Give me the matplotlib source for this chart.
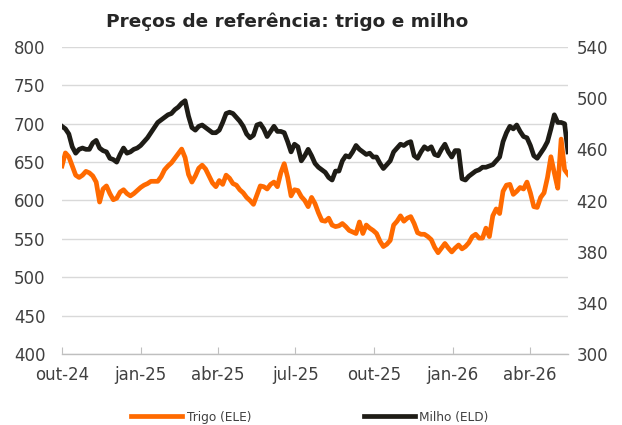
import matplotlib
matplotlib.use("Agg")
import matplotlib.pyplot as plt
import matplotlib.dates as mdates
from matplotlib.ticker import FuncFormatter
import pandas as pd

title = "Preços de referência: trigo e milho"
start_date = "2024-10-01"
step = "4D"
month_names = {1: "jan", 4: "abr", 7: "jul", 10: "out"}
left_ticks = [400, 450, 500, 550, 600, 650, 700, 750, 800]
right_ticks = [300, 340, 380, 420, 460, 500, 540]
label_trigo = "Trigo (ELE)"
label_milho = "Milho (ELD)"

trigo = [645, 662, 657, 645, 633, 630, 633, 638, 636, 632,
         624, 598, 615, 619, 609, 601, 603, 611, 614, 609,
         606, 609, 613, 617, 620, 622, 625, 625, 625, 631,
         640, 645, 649, 655, 661, 667, 656, 634, 624, 632,
         642, 646, 641, 632, 623, 618, 626, 621, 633, 629,
         622, 620, 614, 610, 604, 600, 595, 607, 619, 618,
         615, 621, 624, 618, 636, 648, 630, 606, 614, 613,
         605, 600, 592, 604, 596, 584, 574, 573, 577, 568,
         566, 567, 570, 566, 561, 559, 557, 572, 557, 568,
         564, 561, 557, 547, 540, 543, 548, 568, 573, 580,
         573, 577, 579, 570, 558, 556, 556, 553, 549, 539,
         532, 538, 544, 538, 533, 538, 542, 537, 540, 545,
         553, 556, 551, 551, 564, 553, 580, 589, 583, 612,
         620, 621, 608, 612, 617, 615, 624, 610, 592, 591,
         604, 610, 630, 657, 636, 616, 680, 640, 634]

milho = [478, 476, 472, 462, 457, 460, 461, 460, 460, 465,
         467, 461, 459, 458, 453, 452, 450, 456, 461, 457,
         458, 460, 461, 463, 466, 469, 473, 477, 481, 483,
         485, 487, 488, 491, 493, 496, 498, 486, 477, 475,
         478, 479, 477, 475, 473, 473, 475, 481, 488, 489,
         488, 485, 482, 478, 472, 469, 471, 479, 480, 476,
         470, 474, 478, 474, 474, 473, 466, 458, 464, 462,
         451, 455, 460, 455, 449, 446, 444, 442, 438, 436,
         443, 443, 451, 455, 454, 458, 463, 460, 458, 456,
         457, 454, 454, 449, 445, 448, 451, 458, 461, 464,
         463, 465, 466, 455, 453, 458, 462, 460, 462, 456,
         455, 460, 464, 458, 454, 459, 459, 437, 436, 439,
         441, 443, 444, 446, 446, 447, 448, 451, 454, 466,
         473, 478, 476, 479, 474, 470, 469, 463, 455, 453,
         457, 461, 466, 476, 487, 481, 481, 480, 458]

dates = pd.date_range(start_date, periods=len(trigo), freq=step)

orange = "#FF6A00"
dark = "#1E1C16"
txt = "#404040"
grid = "#D9D9D9"

fig = plt.figure(figsize=(6.22, 4.25), dpi=100)
ax = fig.add_axes([62 / 622, 1 - 354 / 425, (568 - 62) / 622, (354 - 47) / 425])
ax2 = ax.twinx()

ax.plot(dates, trigo, color=orange, lw=3.4, solid_joinstyle="round", label=label_trigo)
ax2.plot(dates, milho, color=dark, lw=3.4, solid_joinstyle="round", label=label_milho)

ax.set_ylim(left_ticks[0], left_ticks[-1])
ax2.set_ylim(right_ticks[0], right_ticks[-1])
ax.set_yticks(left_ticks)
ax2.set_yticks(right_ticks)
ax.set_xlim(dates[0], dates[-1])

ax.xaxis.set_major_locator(mdates.MonthLocator(bymonth=list(month_names.keys()), bymonthday=1))
ax.xaxis.set_major_formatter(FuncFormatter(
    lambda v, p: f"{month_names[mdates.num2date(v).month]}-{mdates.num2date(v).strftime('%y')}"))

for a in (ax, ax2):
    for s in a.spines.values():
        s.set_visible(False)
ax.spines["bottom"].set_visible(True)
ax.spines["bottom"].set_color("#BFBFBF")
ax.spines["bottom"].set_linewidth(1.0)

ax.grid(axis="y", color=grid, lw=1.0)
ax.set_axisbelow(True)
ax.tick_params(axis="y", length=0, pad=12, labelsize=12, labelcolor=txt)
ax2.tick_params(axis="y", length=0, pad=6, labelsize=12, labelcolor=txt)
ax.tick_params(axis="x", direction="in", length=5, color="#BFBFBF", pad=9, labelsize=12, labelcolor=txt)

fig.text(287 / 622, 1 - 22 / 425, title, ha="center", va="center", fontsize=13.3,
         fontweight="bold", color="#262626")

h1, l1 = ax.get_legend_handles_labels()
h2, l2 = ax2.get_legend_handles_labels()
leg = fig.legend(h1 + h2, l1 + l2, loc="center", bbox_to_anchor=(310 / 622, 1 - 417 / 425),
                 ncol=2, frameon=False, fontsize=8.7, handlelength=4.2, columnspacing=9.3,
                 handletextpad=0.4)
for t in leg.get_texts():
    t.set_color(txt)

fig.savefig("out.png", dpi=100)
